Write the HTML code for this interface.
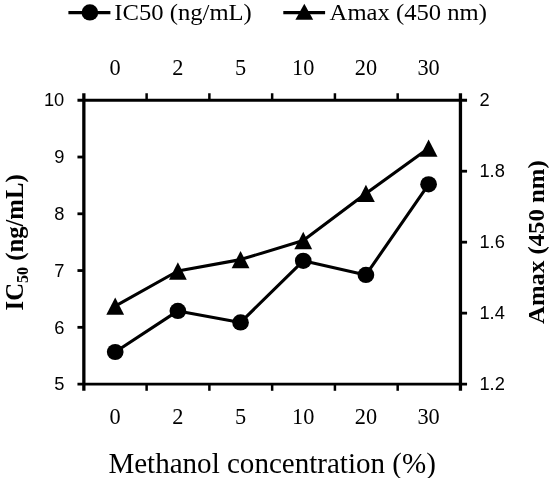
<!DOCTYPE html>
<html lang="en">
<head>
<meta charset="utf-8">
<title>Methanol concentration chart</title>
<style>
html,body{margin:0;padding:0;background:#fff;}
body{width:550px;height:478px;overflow:hidden;}
svg{display:block;}
.serif{font-family:"Liberation Serif",serif;}
.sans{font-family:"Liberation Sans",sans-serif;}
</style>
</head>
<body>
<svg width="550" height="478" viewBox="0 0 550 478">
<rect x="0" y="0" width="550" height="478" fill="#fff"/>
<g stroke="#000" fill="none" stroke-linecap="butt">
<line x1="77.45" y1="100.25" x2="467.05" y2="100.25" stroke-width="2.8"/>
<line x1="77.45" y1="384.1" x2="467.05" y2="384.1" stroke-width="2.6"/>
<line x1="83.85" y1="93.25" x2="83.85" y2="390.80" stroke-width="3.3"/>
<line x1="460.45" y1="93.25" x2="460.45" y2="390.80" stroke-width="3.3"/>
<line x1="146.62" y1="93.25" x2="146.62" y2="100.25" stroke-width="2.5"/>
<line x1="146.62" y1="384.10" x2="146.62" y2="390.80" stroke-width="2.5"/>
<line x1="209.38" y1="93.25" x2="209.38" y2="100.25" stroke-width="2.5"/>
<line x1="209.38" y1="384.10" x2="209.38" y2="390.80" stroke-width="2.5"/>
<line x1="272.15" y1="93.25" x2="272.15" y2="100.25" stroke-width="2.5"/>
<line x1="272.15" y1="384.10" x2="272.15" y2="390.80" stroke-width="2.5"/>
<line x1="334.92" y1="93.25" x2="334.92" y2="100.25" stroke-width="2.5"/>
<line x1="334.92" y1="384.10" x2="334.92" y2="390.80" stroke-width="2.5"/>
<line x1="397.68" y1="93.25" x2="397.68" y2="100.25" stroke-width="2.5"/>
<line x1="397.68" y1="384.10" x2="397.68" y2="390.80" stroke-width="2.5"/>
<line x1="77.45" y1="157.02" x2="83.85" y2="157.02" stroke-width="2.8"/>
<line x1="77.45" y1="213.79" x2="83.85" y2="213.79" stroke-width="2.8"/>
<line x1="77.45" y1="270.56" x2="83.85" y2="270.56" stroke-width="2.8"/>
<line x1="77.45" y1="327.33" x2="83.85" y2="327.33" stroke-width="2.8"/>
<line x1="460.45" y1="171.21" x2="467.05" y2="171.21" stroke-width="2.8"/>
<line x1="460.45" y1="242.18" x2="467.05" y2="242.18" stroke-width="2.8"/>
<line x1="460.45" y1="313.14" x2="467.05" y2="313.14" stroke-width="2.8"/>
</g>
<g stroke="#000" stroke-width="3.1" fill="none" stroke-linejoin="round">
<polyline points="115.20,352.00 177.88,310.90 240.56,322.40 303.24,260.80 365.92,274.90 428.60,184.30"/>
<polyline points="115.20,306.20 177.88,271.00 240.56,259.60 303.24,240.50 365.92,193.40 428.60,148.20"/>
</g>
<g fill="#000">
<ellipse cx="115.20" cy="352.00" rx="8.35" ry="8.1"/>
<ellipse cx="177.88" cy="310.90" rx="8.35" ry="8.1"/>
<ellipse cx="240.56" cy="322.40" rx="8.35" ry="8.1"/>
<ellipse cx="303.24" cy="260.80" rx="8.35" ry="8.1"/>
<ellipse cx="365.92" cy="274.90" rx="8.35" ry="8.1"/>
<ellipse cx="428.60" cy="184.30" rx="8.35" ry="8.1"/>
<polygon points="115.20,297.55 124.10,314.85 106.30,314.85"/>
<polygon points="177.88,262.35 186.78,279.65 168.98,279.65"/>
<polygon points="240.56,250.95 249.46,268.25 231.66,268.25"/>
<polygon points="303.24,231.85 312.14,249.15 294.34,249.15"/>
<polygon points="365.92,184.75 374.82,202.05 357.02,202.05"/>
<polygon points="428.60,139.55 437.50,156.85 419.70,156.85"/>
</g>
<g stroke="#000" stroke-width="3.1"><line x1="68.4" y1="12.6" x2="110.4" y2="12.6"/><line x1="283.3" y1="12.6" x2="325.1" y2="12.6"/></g>
<ellipse cx="89.9" cy="12.4" rx="8.35" ry="8.1" fill="#000"/>
<polygon fill="#000" points="304.3,3.7 313.2,19.8 295.4,19.8"/>
<text class="serif" transform="translate(114.3,19.8) scale(1.062,1)" font-size="23.2" fill="#000">IC50 (ng/mL)</text>
<text class="serif" transform="translate(329.6,19.9) scale(1.062,1)" font-size="23.2" fill="#000">Amax (450 nm)</text>
<text class="serif" x="115.20" y="74.5" font-size="22.3" text-anchor="middle" fill="#000">0</text>
<text class="serif" x="115.20" y="424.4" font-size="22.3" text-anchor="middle" fill="#000">0</text>
<text class="serif" x="177.88" y="74.5" font-size="22.3" text-anchor="middle" fill="#000">2</text>
<text class="serif" x="177.88" y="424.4" font-size="22.3" text-anchor="middle" fill="#000">2</text>
<text class="serif" x="240.56" y="74.5" font-size="22.3" text-anchor="middle" fill="#000">5</text>
<text class="serif" x="240.56" y="424.4" font-size="22.3" text-anchor="middle" fill="#000">5</text>
<text class="serif" x="303.24" y="74.5" font-size="22.3" text-anchor="middle" fill="#000">10</text>
<text class="serif" x="303.24" y="424.4" font-size="22.3" text-anchor="middle" fill="#000">10</text>
<text class="serif" x="365.92" y="74.5" font-size="22.3" text-anchor="middle" fill="#000">20</text>
<text class="serif" x="365.92" y="424.4" font-size="22.3" text-anchor="middle" fill="#000">20</text>
<text class="serif" x="428.60" y="74.5" font-size="22.3" text-anchor="middle" fill="#000">30</text>
<text class="serif" x="428.60" y="424.4" font-size="22.3" text-anchor="middle" fill="#000">30</text>
<text class="sans" x="64.3" y="106.45" font-size="18.3" text-anchor="end" fill="#000">10</text>
<text class="sans" x="64.3" y="163.22" font-size="18.3" text-anchor="end" fill="#000">9</text>
<text class="sans" x="64.3" y="219.99" font-size="18.3" text-anchor="end" fill="#000">8</text>
<text class="sans" x="64.3" y="276.76" font-size="18.3" text-anchor="end" fill="#000">7</text>
<text class="sans" x="64.3" y="333.53" font-size="18.3" text-anchor="end" fill="#000">6</text>
<text class="sans" x="64.3" y="390.30" font-size="18.3" text-anchor="end" fill="#000">5</text>
<text class="sans" x="479.4" y="106.45" font-size="18.3" text-anchor="start" fill="#000">2</text>
<text class="sans" x="479.4" y="177.41" font-size="18.3" text-anchor="start" fill="#000">1.8</text>
<text class="sans" x="479.4" y="248.38" font-size="18.3" text-anchor="start" fill="#000">1.6</text>
<text class="sans" x="479.4" y="319.34" font-size="18.3" text-anchor="start" fill="#000">1.4</text>
<text class="sans" x="479.4" y="390.30" font-size="18.3" text-anchor="start" fill="#000">1.2</text>
<text class="serif" x="108.4" y="472.5" font-size="29.05" fill="#000">Methanol concentration (%)</text>
<text class="serif" transform="translate(22.6,310.4) rotate(-90)" font-size="24.7" font-weight="bold" fill="#000">IC<tspan font-size="16" dy="5.5">50</tspan><tspan dy="-5.5"> (ng/mL)</tspan></text>
<text class="serif" transform="translate(543.6,324) rotate(-90) scale(1.032,1)" font-size="24" font-weight="bold" fill="#000">Amax (450 nm)</text>
</svg>
</body>
</html>
